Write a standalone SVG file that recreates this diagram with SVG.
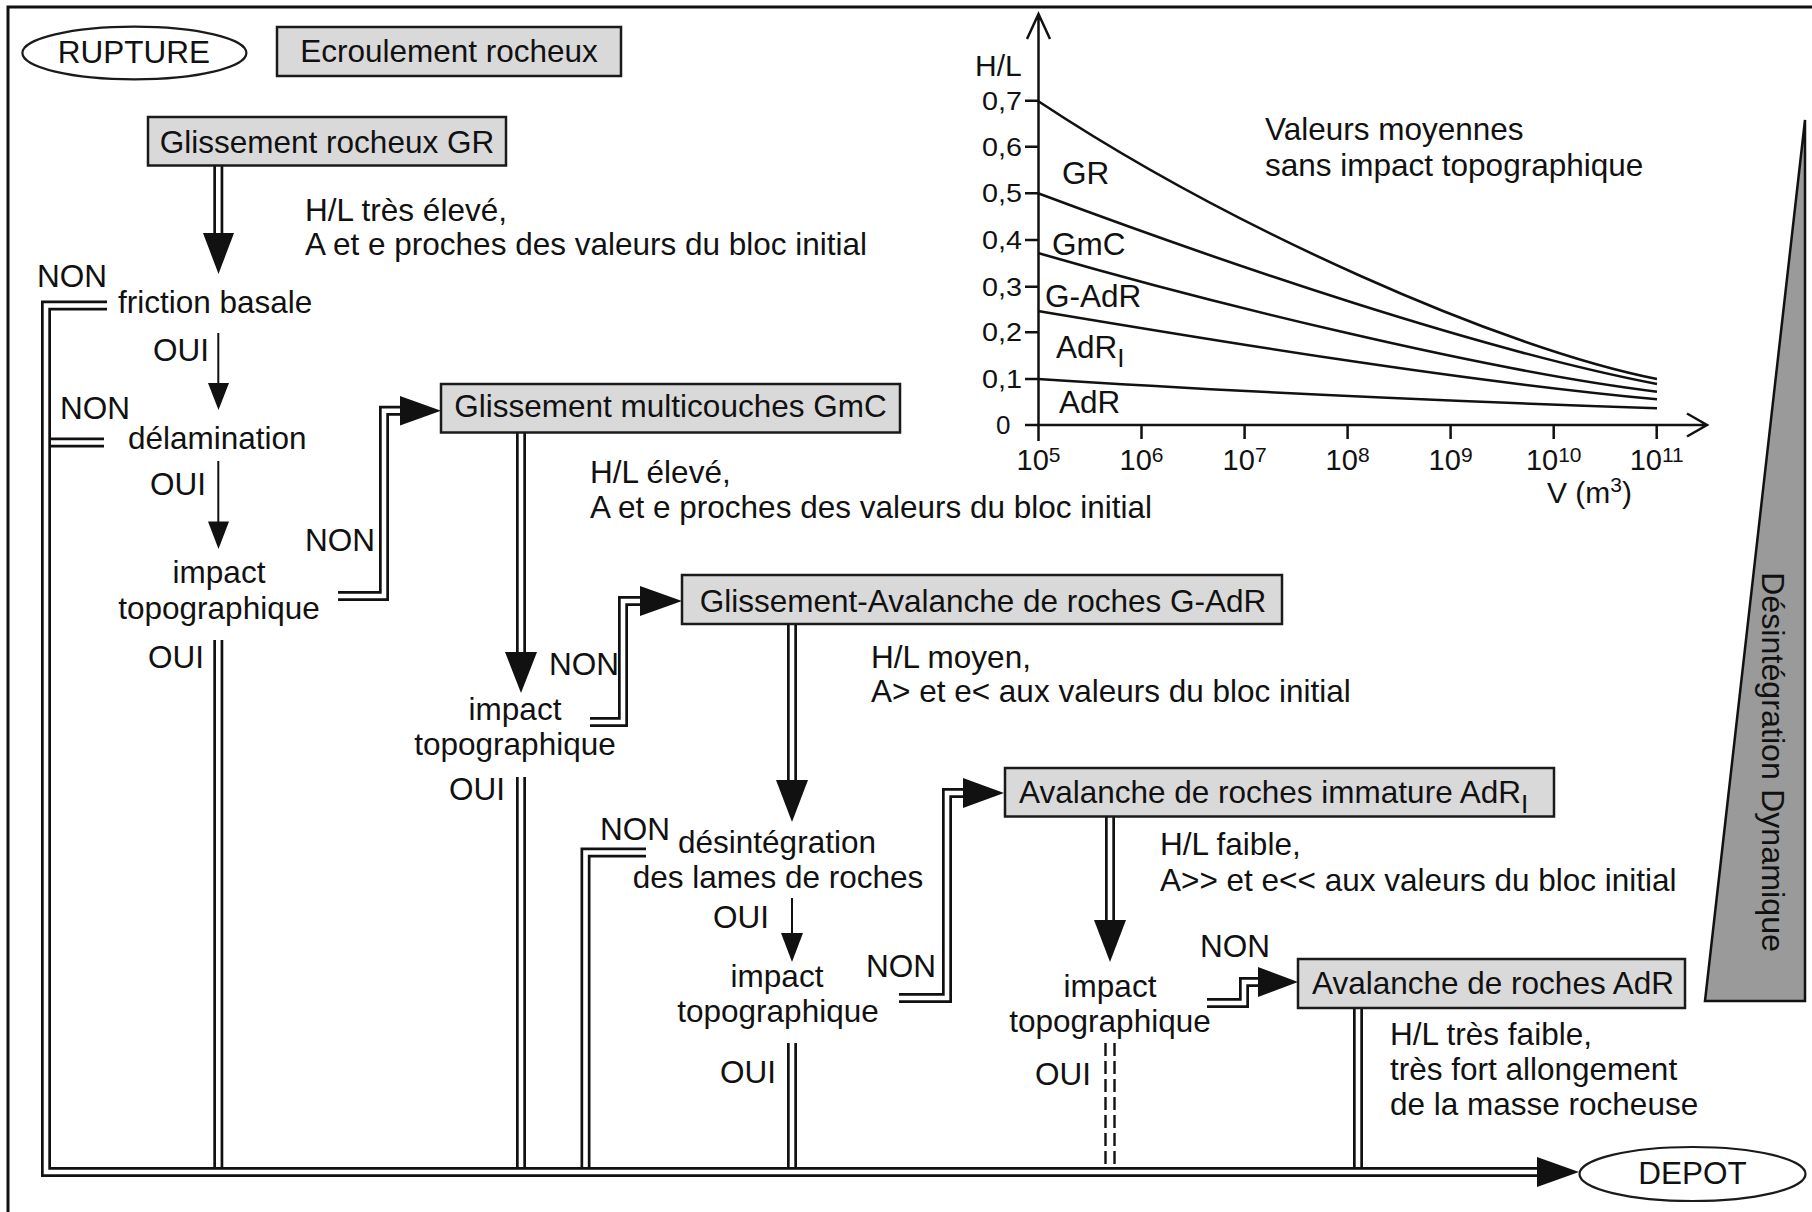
<svg xmlns="http://www.w3.org/2000/svg" xmlns:xlink="http://www.w3.org/1999/xlink" width="1812" height="1212" viewBox="0 0 1812 1212">
<style>
  text { font-family: "Liberation Sans", Arial, Helvetica, sans-serif; font-size: 31.5px; fill: #111; }
  .m { text-anchor: middle; }
  .tick { font-size: 26px; }
  .xt { font-size: 29px; }
  .lbl { font-size: 30px; }
  .box { fill: #d9d9d9; stroke: #1a1a1a; stroke-width: 2.5; }
  .oval { fill: #fff; stroke: #1a1a1a; stroke-width: 2.2; }
  .frame { fill: none; stroke: #111; stroke-width: 3; }
  .dlb { fill: none; stroke: #111; stroke-width: 10; stroke-linejoin: miter; }
  .dlw { fill: none; stroke: #fff; stroke-width: 4.6; stroke-linejoin: miter; }
  .thin { fill: none; stroke: #111; stroke-width: 2; }
  .head { fill: #111; }
  .axis { fill: none; stroke: #111; stroke-width: 2.5; }
  .curve { fill: none; stroke: #111; stroke-width: 2.6; }
  .dash { fill: none; stroke: #111; stroke-width: 2.4; stroke-dasharray: 13 5; }
  .wedge { fill: #9a9a9a; stroke: #111; stroke-width: 2.5; stroke-linejoin: miter; }
</style>
<defs>
  <!-- centre lines of the double-line connectors -->
  <path id="p-delam" d="M104,442.5 H47"/>
  <path id="p-oui1" d="M218.3,640 V1170"/>
  <path id="p-oui2" d="M521,777 V1170"/>
  <path id="p-non-des" d="M646,852.5 H585.5 V1170"/>
  <path id="p-oui3" d="M792,1043 V1170"/>
  <path id="p-adr-out" d="M1358,1000 V1170"/>
  <path id="p-main" d="M107,305.5 H46 V1172 H1540"/>
  <path id="p-gr" d="M218.3,160 V236"/>
  <path id="p-gmc-in" d="M338,596 H384 V410.7 H403"/>
  <path id="p-gmc" d="M521,425 V655"/>
  <path id="p-gadr-in" d="M590,722 H623 V601 H643"/>
  <path id="p-gadr" d="M792,618 V783"/>
  <path id="p-adri-in" d="M899,998 H947 V793 H966"/>
  <path id="p-adri" d="M1110,810 V923"/>
  <path id="p-adr-in" d="M1207,1003 H1244 V982 H1261"/>
</defs>

<rect width="1812" height="1212" fill="#fff"/>
<path class="frame" d="M8,1212 V7 H1812"/>

<!-- connectors -->
<g id="connectors">
  <use xlink:href="#p-delam" class="dlb"/><use xlink:href="#p-delam" class="dlw"/>
  <use xlink:href="#p-oui1" class="dlb"/><use xlink:href="#p-oui1" class="dlw"/>
  <use xlink:href="#p-oui2" class="dlb"/><use xlink:href="#p-oui2" class="dlw"/>
  <use xlink:href="#p-non-des" class="dlb"/><use xlink:href="#p-non-des" class="dlw"/>
  <use xlink:href="#p-oui3" class="dlb"/><use xlink:href="#p-oui3" class="dlw"/>
  <use xlink:href="#p-adr-out" class="dlb"/><use xlink:href="#p-adr-out" class="dlw"/>
  <use xlink:href="#p-main" class="dlb"/><use xlink:href="#p-main" class="dlw"/>
  <use xlink:href="#p-gr" class="dlb"/><use xlink:href="#p-gr" class="dlw"/>
  <use xlink:href="#p-gmc-in" class="dlb"/><use xlink:href="#p-gmc-in" class="dlw"/>
  <use xlink:href="#p-gmc" class="dlb"/><use xlink:href="#p-gmc" class="dlw"/>
  <use xlink:href="#p-gadr-in" class="dlb"/><use xlink:href="#p-gadr-in" class="dlw"/>
  <use xlink:href="#p-gadr" class="dlb"/><use xlink:href="#p-gadr" class="dlw"/>
  <use xlink:href="#p-adri-in" class="dlb"/><use xlink:href="#p-adri-in" class="dlw"/>
  <use xlink:href="#p-adri" class="dlb"/><use xlink:href="#p-adri" class="dlw"/>
  <use xlink:href="#p-adr-in" class="dlb"/><use xlink:href="#p-adr-in" class="dlw"/>
  <!-- dashed OUI branch below the last impact test -->
  <path class="dash" d="M1105.5,1043 V1168 M1114.5,1043 V1168"/>
  <!-- single-line OUI arrows -->
  <path class="thin" d="M218.3,333 V386 M218.3,461 V524 M792,898 V936"/>
  <!-- arrowheads -->
  <polygon class="head" points="203,233 234,233 218.5,274"/>
  <polygon class="head" points="208,383 229,383 218.5,410"/>
  <polygon class="head" points="208,521.5 229,521.5 218.5,549"/>
  <polygon class="head" points="400,396 400,425.5 441,410.7"/>
  <polygon class="head" points="505,652 537,652 521,693"/>
  <polygon class="head" points="640,586 640,616 682,601"/>
  <polygon class="head" points="776,780 808,780 792,822"/>
  <polygon class="head" points="781,933 803,933 792,962"/>
  <polygon class="head" points="963,778 963,808 1004,793"/>
  <polygon class="head" points="1094,920 1126,920 1110,962"/>
  <polygon class="head" points="1258,967 1258,997 1298,982"/>
  <polygon class="head" points="1537,1157 1537,1187 1579,1172"/>
</g>

<!-- legend -->
<g id="rupture">
  <ellipse class="oval" cx="134.4" cy="53" rx="112" ry="26.3"/>
  <text class="m" x="134" y="63">RUPTURE</text>
</g>
<g id="ecroulement">
  <rect class="box" x="277" y="27" width="344" height="49"/>
  <text class="m" x="449" y="62">Ecroulement rocheux</text>
</g>

<!-- glissement rocheux -->
<g id="gr">
  <rect class="box" x="148" y="117" width="358" height="48.5"/>
  <text class="m" x="327" y="153">Glissement rocheux GR</text>
</g>
<g id="gr-note">
  <text x="305" y="221">H/L très élevé,</text>
  <text x="305" y="255">A et e proches des valeurs du bloc initial</text>
</g>
<g id="friction">
  <text x="37" y="287">NON</text>
  <text x="118" y="313">friction basale</text>
  <text x="153" y="361">OUI</text>
</g>
<g id="delamination">
  <text x="60" y="419">NON</text>
  <text x="128" y="449">délamination</text>
  <text x="150" y="495">OUI</text>
</g>
<g id="impact1">
  <text class="m" x="219" y="583">impact</text>
  <text class="m" x="219" y="619">topographique</text>
  <text x="305" y="551">NON</text>
  <text x="148" y="668">OUI</text>
</g>

<!-- glissement multicouches -->
<g id="gmc">
  <rect class="box" x="441" y="384" width="459" height="48.5"/>
  <text class="m" x="670.5" y="417">Glissement multicouches GmC</text>
</g>
<g id="gmc-note">
  <text x="590" y="483">H/L élevé,</text>
  <text x="590" y="518">A et e proches des valeurs du bloc initial</text>
</g>
<g id="impact2">
  <text x="549" y="675">NON</text>
  <text class="m" x="515" y="720">impact</text>
  <text class="m" x="515" y="755">topographique</text>
  <text x="449" y="800">OUI</text>
</g>

<!-- glissement-avalanche -->
<g id="gadr">
  <rect class="box" x="682" y="575" width="600" height="49"/>
  <text class="m" x="983" y="612">Glissement-Avalanche de roches G-AdR</text>
</g>
<g id="gadr-note">
  <text x="871" y="668">H/L moyen,</text>
  <text x="871" y="702">A&gt; et e&lt; aux valeurs du bloc initial</text>
</g>
<g id="desintegration">
  <text x="600" y="840">NON</text>
  <text class="m" x="777" y="853">désintégration</text>
  <text class="m" x="778" y="888">des lames de roches</text>
  <text x="713" y="928">OUI</text>
</g>
<g id="impact3">
  <text class="m" x="777" y="987">impact</text>
  <text class="m" x="778" y="1022">topographique</text>
  <text x="866" y="977">NON</text>
  <text x="720" y="1083">OUI</text>
</g>

<!-- avalanche immature -->
<g id="adri">
  <rect class="box" x="1005" y="768" width="549" height="48.5"/>
  <text x="1019" y="803">Avalanche de roches immature AdR<tspan dy="10" font-size="26">I</tspan></text>
</g>
<g id="adri-note">
  <text x="1160" y="855">H/L faible,</text>
  <text x="1160" y="891">A&gt;&gt; et e&lt;&lt; aux valeurs du bloc initial</text>
</g>
<g id="impact4">
  <text class="m" x="1110" y="997">impact</text>
  <text class="m" x="1110" y="1032">topographique</text>
  <text x="1200" y="957">NON</text>
  <text x="1035" y="1085">OUI</text>
</g>

<!-- avalanche de roches -->
<g id="adr">
  <rect class="box" x="1298" y="959" width="387" height="49"/>
  <text class="m" x="1493" y="994">Avalanche de roches AdR</text>
</g>
<g id="adr-note">
  <text x="1390" y="1045">H/L très faible,</text>
  <text x="1390" y="1080">très fort allongement</text>
  <text x="1390" y="1115">de la masse rocheuse</text>
</g>

<g id="depot">
  <ellipse class="oval" cx="1692.5" cy="1174" rx="113" ry="27"/>
  <text class="m" x="1692.5" y="1184">DEPOT</text>
</g>

<!-- dynamic disintegration wedge -->
<g id="wedge">
  <polygon class="wedge" points="1805,120 1805,1001 1705,1001"/>
  <text class="m" font-size="24" textLength="380" lengthAdjust="spacingAndGlyphs" transform="translate(1762,762) rotate(90)">Désintégration Dynamique</text>
</g>

<!-- H/L versus volume chart -->
<g id="chart">
  <path class="axis" d="M1038.5,441 V14 M1027,39 L1038.5,14 L1050,39"/>
  <path class="axis" d="M1025,425 H1706 M1687,413.5 L1707,425 L1687,436.5"/>
  <path class="axis" d="M1025,100.7 H1038 M1025,146.7 H1038 M1025,193.3 H1038 M1025,240 H1038 M1025,286.7 H1038 M1025,332.3 H1038 M1025,379 H1038"/>
  <path class="axis" d="M1141.5,425 V439 M1244.6,425 V439 M1347.6,425 V439 M1450.6,425 V439 M1553.7,425 V439 M1656.7,425 V439"/>
  <text class="lbl" x="975" y="76">H/L</text>
  <text class="tick" x="982" y="109.5" textLength="40" lengthAdjust="spacingAndGlyphs">0,7</text>
  <text class="tick" x="982" y="155.5" textLength="40" lengthAdjust="spacingAndGlyphs">0,6</text>
  <text class="tick" x="982" y="202" textLength="40" lengthAdjust="spacingAndGlyphs">0,5</text>
  <text class="tick" x="982" y="249" textLength="40" lengthAdjust="spacingAndGlyphs">0,4</text>
  <text class="tick" x="982" y="295.5" textLength="40" lengthAdjust="spacingAndGlyphs">0,3</text>
  <text class="tick" x="982" y="341" textLength="40" lengthAdjust="spacingAndGlyphs">0,2</text>
  <text class="tick" x="982" y="388" textLength="40" lengthAdjust="spacingAndGlyphs">0,1</text>
  <text class="tick" x="996" y="434">0</text>
  <text class="xt m" x="1038.5" y="470">10<tspan dy="-8" font-size="21">5</tspan></text>
  <text class="xt m" x="1141.5" y="470">10<tspan dy="-8" font-size="21">6</tspan></text>
  <text class="xt m" x="1244.6" y="470">10<tspan dy="-8" font-size="21">7</tspan></text>
  <text class="xt m" x="1347.6" y="470">10<tspan dy="-8" font-size="21">8</tspan></text>
  <text class="xt m" x="1450.6" y="470">10<tspan dy="-8" font-size="21">9</tspan></text>
  <text class="xt m" x="1553.7" y="470">10<tspan dy="-8" font-size="21">10</tspan></text>
  <text class="xt m" x="1656.7" y="470">10<tspan dy="-8" font-size="21">11</tspan></text>
  <text class="lbl" x="1547" y="503">V (m<tspan dy="-11" font-size="21">3</tspan><tspan dy="11">)</tspan></text>
  <text x="1265" y="140">Valeurs moyennes</text>
  <text x="1265" y="176">sans impact topographique</text>
  <path class="curve" d="M1038,101 C1230,228 1500,348 1657,379"/>
  <path class="curve" d="M1038,193.3 C1230,265 1480,350 1657,384"/>
  <path class="curve" d="M1038,253 C1200,300 1480,370 1657,391.7"/>
  <path class="curve" d="M1038,311 C1200,338 1450,380 1657,399.3"/>
  <path class="curve" d="M1038,379 Q1300,396 1657,408.3"/>
  <text x="1062" y="184">GR</text>
  <text x="1052" y="255">GmC</text>
  <text x="1045" y="307">G-AdR</text>
  <text x="1056" y="358">AdR<tspan dy="9" font-size="26">I</tspan></text>
  <text x="1059" y="413">AdR</text>
</g>
</svg>
